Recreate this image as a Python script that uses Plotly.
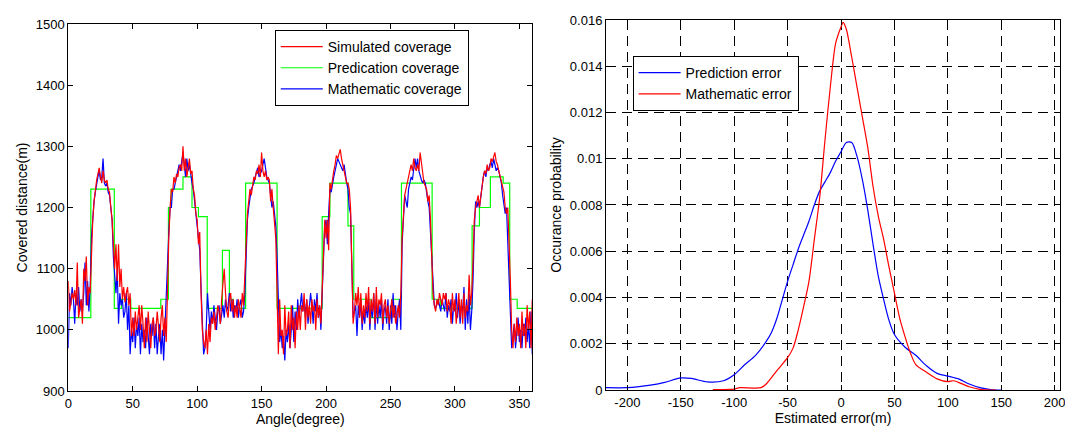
import plotly.graph_objects as go

# ---------------- Left chart data ----------------
angles = list(range(0, 361))

simulated = [
    1080, 1030, 1045, 1060, 1050, 1065, 1040, 1110, 1020, 1035,
    1050, 1010, 1100, 1080, 1120, 1040, 1070, 1060, 1140, 1180,
    1210, 1230, 1245, 1255, 1265, 1250, 1240, 1260, 1245, 1240,
    1245, 1230, 1225, 1200, 1180, 1140, 1100, 1140, 1080, 1140,
    1070, 1100, 1050, 1070, 1045, 1060, 1070, 1040, 1060, 990,
    1020, 990, 1030, 1000, 1020, 1040, 1000, 1040, 1010, 970,
    1020, 980, 1030, 1000, 970, 1010, 1020, 990, 1000, 1030,
    1000, 980, 1020, 1040, 990, 1020, 980, 1080, 1150, 1200,
    1230, 1225, 1250, 1240, 1255, 1250, 1265, 1270, 1260, 1300,
    1260, 1280, 1250, 1265, 1280, 1255, 1260, 1230, 1220, 1190,
    1180, 1140, 1160, 1060, 1000, 980, 970, 1000, 960, 1010,
    980, 1020, 1010, 1030, 1000, 1020, 1040, 1030, 1010, 1050,
    1070, 1100, 1060, 1030, 1020, 1050, 1060, 1030, 1050, 1020,
    1040, 1020, 1050, 1030, 1020, 1060, 1040, 1090, 1150, 1190,
    1210, 1230, 1220, 1240, 1250, 1245, 1260, 1255, 1270, 1250,
    1290, 1260, 1250, 1260, 1245, 1250, 1245, 1210, 1230, 1200,
    1180, 1150, 1060, 960, 1050, 990, 1000, 960, 1040, 990,
    1000, 1030, 970, 1040, 1000, 1020, 970, 1030, 1000, 1040,
    1000, 1040, 1030, 1060, 1000, 1050, 1020, 1040, 1010, 1050,
    1030, 1040, 1000, 1050, 1020, 1040, 1010, 1070, 1130, 1180,
    1150, 1180, 1130, 1240, 1230, 1250, 1260, 1270, 1285, 1280,
    1290, 1295, 1280, 1270, 1260, 1250, 1240, 1240, 1230, 1200,
    1120, 1010, 1030, 1060, 1040, 1070, 1020, 1060, 1010, 1040,
    1020, 1060, 1030, 1070, 1010, 1050, 1030, 1060, 1010, 1070,
    1020, 1050, 1040, 1060, 1010, 1040, 1050, 1020, 1040, 1010,
    1030, 1050, 1020, 1040, 1010, 1030, 1040, 1020, 1060, 1150,
    1190, 1220, 1230, 1240, 1250, 1260, 1270, 1260, 1280, 1265,
    1260, 1270, 1260, 1290, 1270, 1250, 1240, 1235, 1230, 1210,
    1220, 1180, 1120, 1060, 1040, 1030, 1050, 1040, 1060, 1050,
    1040, 1060, 1050, 1060, 1030, 1050, 1040, 1010, 1060, 1030,
    1050, 1010, 1030, 1060, 1020, 1050, 1010, 1060, 1020, 1040,
    1030, 1090, 1040, 1060, 1110, 1180, 1200, 1210, 1220, 1200,
    1220, 1230, 1250, 1260, 1255, 1270, 1260, 1265, 1280, 1275,
    1285, 1290, 1275, 1270, 1260, 1250, 1240, 1230, 1225, 1200,
    1190, 1200, 1150, 1080, 1000, 970, 1010, 980, 1020, 990,
    1010, 970, 1030, 990, 1010, 970, 1040, 1000, 1030, 970,
    1050,
]

mathematic = [
    970, 1060, 1040, 1070, 1050, 1010, 1060, 1040, 1070, 1030,
    1050, 1030, 1060, 1110, 1040, 1080, 1030, 1070, 1150, 1190,
    1210, 1225, 1240, 1250, 1260, 1245, 1250, 1280, 1240, 1235,
    1240, 1225, 1220, 1200, 1180, 1120, 1090, 1060, 1100, 1010,
    1060, 1040, 1050, 1020, 1030, 1060, 1000, 1040, 960, 1000,
    980, 1020, 970, 1010, 990, 1020, 960, 1010, 980, 1000,
    970, 1020, 990, 960, 1010, 990, 1020, 970, 1010, 960,
    990, 1010, 960, 1000, 950, 1010, 1040, 1100, 1160, 1200,
    1200, 1230, 1230, 1240, 1250, 1260, 1270, 1260, 1275, 1290,
    1270, 1250, 1280, 1260, 1270, 1250, 1240, 1230, 1210, 1180,
    1170, 1150, 1130, 1070, 1000, 960, 970, 1000, 1060, 1020,
    1000, 1030, 1010, 1040, 1020, 1000, 1030, 1040, 1010, 1030,
    1040, 1020, 1050, 1030, 1040, 1060, 1030, 1050, 1020, 1040,
    1030, 1050, 1020, 1040, 1050, 1020, 1030, 1060, 1110, 1180,
    1200, 1220, 1230, 1235, 1240, 1250, 1260, 1265, 1250, 1255,
    1260, 1270, 1280, 1265, 1250, 1245, 1240, 1220, 1200, 1210,
    1190, 1170, 1120, 1040, 980, 1000, 970, 990, 950, 1000,
    980, 1010, 970, 1000, 1040, 980, 1030, 1000, 1050, 1020,
    1040, 1060, 1030, 1050, 1020, 1050, 1010, 1030, 1060, 1040,
    1010, 1050, 1030, 1060, 1020, 1040, 1000, 1060, 1120, 1170,
    1180, 1140, 1190, 1230, 1225, 1240, 1250, 1260, 1270, 1280,
    1275, 1270, 1265, 1260, 1270, 1250, 1240, 1230, 1200, 1190,
    1100, 1020, 1030, 1040, 990, 1040, 1020, 1050, 1000, 1030,
    1010, 1040, 1020, 1050, 1000, 1040, 1020, 1060, 1000, 1050,
    1010, 1040, 1020, 1050, 1000, 1030, 1040, 1010, 1050, 1000,
    1040, 1010, 1060, 1020, 1040, 1000, 1030, 1050, 1000, 1140,
    1180, 1220, 1210, 1200, 1230, 1240, 1250, 1245, 1260, 1280,
    1265, 1280, 1260, 1250, 1245, 1240, 1245, 1240, 1220, 1210,
    1200, 1160, 1110, 1060, 1040, 1035, 1045, 1050, 1040, 1030,
    1050, 1040, 1030, 1060, 1020, 1040, 1030, 1050, 1010, 1040,
    1030, 1060, 1020, 1050, 1010, 1040, 1030, 1070, 1000, 1050,
    1010, 1060, 1000, 1030, 1080, 1160, 1210, 1200, 1210, 1200,
    1220, 1240, 1250, 1260, 1250, 1265, 1260, 1270, 1275, 1265,
    1280, 1270, 1260, 1265, 1260, 1250, 1240, 1220, 1200, 1190,
    1200, 1140, 1060, 1000, 970, 990, 1010, 970, 1000, 1020,
    980, 1000, 970, 1010, 990, 1020, 980, 1010, 970, 1030,
    960,
]

# Prediction coverage: step function (start angle of each step, level)
pred_angles = [0, 17.5, 35.7, 41.3, 48.5, 71.8, 77.7, 79.8, 89, 96, 101, 107.8,
               119.6, 125, 128, 137.6, 162, 197, 203, 217, 221.5, 235, 251,
               258.5, 282.3, 288.7, 313.3, 319, 327.5, 337.4, 342.5, 348.3, 360]
pred_values = [1020, 1230, 1035, 1050, 1035, 1050, 1200, 1230, 1250, 1200, 1185, 1035,
               1130, 1050, 1035, 1240, 1035, 1185, 1240, 1170, 1050, 1020, 1050,
               1240, 1050, 1035, 1170, 1200, 1250, 1240, 1050, 1035, 1035]

left_xticks = [0, 50, 100, 150, 200, 250, 300, 350]
left_yticks = [900, 1000, 1100, 1200, 1300, 1400, 1500]

# ---------------- Right chart data ----------------
pred_err_x = [-220, -200, -180, -165, -150, -140, -125, -110, -100, -90, -80, -70,
              -65, -60, -55, -50, -45, -40, -35, -30, -25, -20, -15, -10, -5, 0,
              5, 10, 15, 20, 25, 30, 35, 40, 45, 50, 60, 70, 80, 90, 100, 110,
              120, 130, 140, 150]
pred_err_y = [0.0001, 0.0001, 0.0002, 0.00033, 0.00052, 0.0005, 0.00035, 0.0004,
              0.00066, 0.0011, 0.0015, 0.0021, 0.0025, 0.0031, 0.0039, 0.0047,
              0.0054, 0.0061, 0.0067, 0.0073, 0.0080, 0.0086, 0.0090, 0.0094,
              0.0099, 0.0103, 0.0107, 0.0107, 0.0101, 0.0091, 0.0078, 0.0063,
              0.0049, 0.0039, 0.0030, 0.0024, 0.00185, 0.0015, 0.00105, 0.00072,
              0.0006, 0.00048, 0.00026, 0.0001, 0.00002, 0.0]

math_err_x = [-120, -100, -95, -75, -70, -60, -50, -45, -40, -35, -30, -25, -20,
              -15, -10, -5, 0, 2, 5, 10, 15, 20, 25, 30, 35, 40, 45, 50, 55, 60,
              65, 70, 80, 90, 100, 105, 110, 120, 130, 140, 145]
math_err_y = [0.00002, 0.00004, 0.0001, 0.0001, 0.00026, 0.00084, 0.0014, 0.0018,
              0.0026, 0.0036, 0.0047, 0.0065, 0.0083, 0.0108, 0.0131, 0.0150,
              0.0157, 0.0159, 0.0156, 0.0144, 0.0131, 0.0118, 0.0105, 0.0088,
              0.0075, 0.0065, 0.0053, 0.0042, 0.0031, 0.0023, 0.0016, 0.0011,
              0.00077, 0.00048, 0.00036, 0.0004, 0.00033, 0.00014, 0.00003, 0.0, 0.0]

right_xticks = [-200, -150, -100, -50, 0, 50, 100, 150, 200]
right_xtext = ["-200", "-150", "-100", "-50", "0", "50", "100", "150", "200"]
right_yticks = [0, 0.002, 0.004, 0.006, 0.008, 0.01, 0.012, 0.014, 0.016]
right_ytext = ["0", "0.002", "0.004", "0.006", "0.008", "0.01", "0.012", "0.014", "0.016"]

FONT = "Liberation Sans, Arial, sans-serif"

fig = go.Figure()

fig.add_trace(go.Scatter(x=pred_angles, y=pred_values, mode="lines", line_shape="hv",
                         line=dict(color="#00ff00", width=1.2), name="Predication coverage",
                         legend="legend", legendrank=2, xaxis="x", yaxis="y"))
fig.add_trace(go.Scatter(x=angles, y=mathematic, mode="lines",
                         line=dict(color="#0000ff", width=1.2), name="Mathematic coverage",
                         legend="legend", legendrank=3, xaxis="x", yaxis="y"))
fig.add_trace(go.Scatter(x=angles, y=simulated, mode="lines",
                         line=dict(color="#ff0000", width=1.2), name="Simulated coverage",
                         legend="legend", legendrank=1, xaxis="x", yaxis="y"))

fig.add_trace(go.Scatter(x=pred_err_x, y=pred_err_y, mode="lines", line_shape="spline",
                         line=dict(color="#0000ff", width=1.2, smoothing=0.8), name="Prediction error",
                         legend="legend2", legendrank=1, xaxis="x2", yaxis="y2"))
fig.add_trace(go.Scatter(x=math_err_x, y=math_err_y, mode="lines", line_shape="spline",
                         line=dict(color="#ff0000", width=1.2, smoothing=0.8), name="Mathematic error",
                         legend="legend2", legendrank=2, xaxis="x2", yaxis="y2"))

axis_common = dict(showline=True, linecolor="black", linewidth=1, mirror="ticks",
                   ticks="inside", ticklen=5, tickcolor="black", zeroline=False,
                   automargin=False, ticklabeloverflow="allow",
                   tickfont=dict(family=FONT, size=13, color="black"))

fig.update_layout(
    width=1065, height=428,
    margin=dict(l=0, r=0, t=0, b=0, autoexpand=False),
    paper_bgcolor="white", plot_bgcolor="white",
    font=dict(family=FONT, size=13, color="black"),
    xaxis=dict(domain=[0.0641, 0.4998], range=[0, 360], tickvals=left_xticks,
               showgrid=False, anchor="y",
               title=dict(text="Angle(degree)", font=dict(size=14), standoff=2),
               **axis_common),
    yaxis=dict(domain=[0.0864, 0.9439], range=[900, 1500], tickvals=left_yticks,
               showgrid=False, anchor="x",
               title=dict(text="Covered distance(m)", font=dict(size=14), standoff=4),
               **axis_common),
    xaxis2=dict(domain=[0.569, 0.9953], range=[-220, 205], tickvals=right_xticks,
                ticktext=right_xtext, anchor="y2",
                showgrid=True, gridcolor="black", griddash="10px,6px", gridwidth=1,
                title=dict(text="Estimated error(m)", font=dict(size=14), standoff=2),
                **axis_common),
    yaxis2=dict(domain=[0.0888, 0.9533], range=[0, 0.016], tickvals=right_yticks,
                ticktext=right_ytext, anchor="x2",
                showgrid=True, gridcolor="black", griddash="10px,6px", gridwidth=1,
                title=dict(text="Occurance probability", font=dict(size=14), standoff=4),
                **axis_common),
    legend=dict(x=0.258, y=0.930, xanchor="left", yanchor="top",
                bgcolor="white", bordercolor="black", borderwidth=1, itemwidth=42,
                font=dict(family=FONT, size=14), tracegroupgap=0),
    legend2=dict(x=0.594, y=0.869, xanchor="left", yanchor="top",
                 bgcolor="white", bordercolor="black", borderwidth=1, itemwidth=42,
                 font=dict(family=FONT, size=14), tracegroupgap=0),
    showlegend=True,
)

fig.write_html("out.html", config={"displayModeBar": False},
               post_script="document.body.style.margin='0';")
